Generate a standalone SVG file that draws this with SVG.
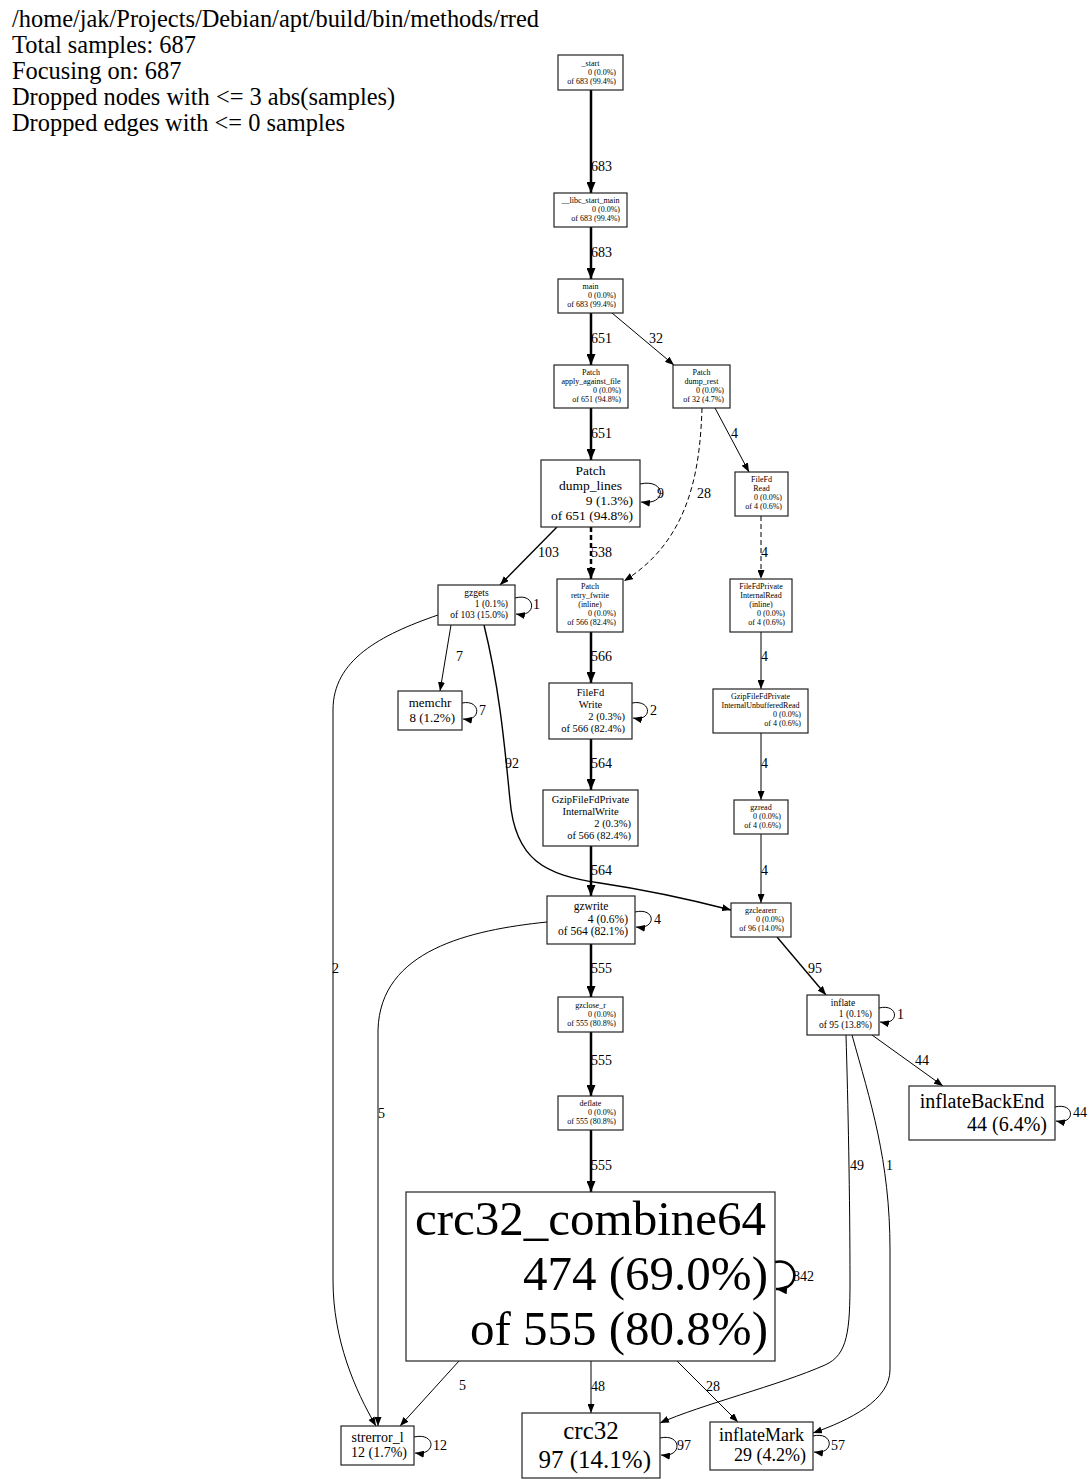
<svg xmlns="http://www.w3.org/2000/svg" width="1091" height="1483" viewBox="0 0 1091 1483">
<defs>
<marker id="a" markerWidth="9" markerHeight="7" refX="9" refY="3.5" orient="auto" markerUnits="userSpaceOnUse"><path d="M0,0 L9,3.5 L0,7 z" fill="#000"/></marker>
<marker id="ab" markerWidth="11" markerHeight="9" refX="11" refY="4.5" orient="auto" markerUnits="userSpaceOnUse"><path d="M0,0 L11,4.5 L0,9 z" fill="#000"/></marker>
<style>
text{font-family:"Liberation Serif","Times New Roman",serif;fill:#000}
.n rect{fill:#fff;stroke:#222;stroke-width:1.2}
.c{text-anchor:middle}
.r{text-anchor:end}
.s{font-size:8px}
.e path{fill:none;stroke:#000;stroke-width:1;marker-end:url(#a)}
.e path.t{stroke-width:2.5;marker-end:url(#ab)}
.e path.m{stroke-width:1.4}
.e path.d{stroke-dasharray:5,3}
.e text{font-size:14px}
.h{font-size:24.4px}
</style>
</defs>
<g id="header">
<text class="h" x="12" y="27">/home/jak/Projects/Debian/apt/build/bin/methods/rred</text>
<text class="h" x="12" y="53">Total samples: 687</text>
<text class="h" x="12" y="79">Focusing on: 687</text>
<text class="h" x="12" y="105">Dropped nodes with &lt;= 3 abs(samples)</text>
<text class="h" x="12" y="131">Dropped edges with &lt;= 0 samples</text>
</g>
<g id="edges" class="e">
<path class="t" d="M591,90 L591,193"/><text x="591" y="171">683</text>
<path class="t" d="M591,227 L591,279"/><text x="591" y="257">683</text>
<path class="t" d="M591,313 L591,365"/><text x="591" y="343">651</text>
<path d="M612,313 L674,365"/><text x="649" y="343">32</text>
<path class="t" d="M591,408 L591,460"/><text x="591" y="438">651</text>
<path d="M640,484 C666,478 668,506 641,502"/><text x="657" y="498">9</text>
<path d="M715,408 L749,472"/><text x="731" y="438">4</text>
<path class="d" d="M702,408 C700,470 690,540 624,581"/><text x="697" y="498">28</text>
<path class="t d" d="M591,527 L591,579"/><text x="591" y="557">538</text>
<path class="m" d="M557,527 L500,585"/><text x="538" y="557">103</text>
<path d="M515,598 C536,592 538,618 516,614"/><text x="533" y="609">1</text>
<path class="d" d="M761,516 L761,579"/><text x="761" y="557">4</text>
<path class="t" d="M591,632 L591,683"/><text x="591" y="661">566</text>
<path d="M761,632 L761,689"/><text x="761" y="661">4</text>
<path d="M451,625 L440,691"/><text x="456" y="661">7</text>
<path d="M462,703 C481,699 482,722 463,719"/><text x="479" y="715">7</text>
<path d="M438,615 C380,635 333,660 333,710 L333,1280 C333,1340 355,1390 376,1426"/><text x="332" y="973">2</text>
<path class="m" d="M484,625 C500,690 505,750 510,800 C515,860 545,875 600,883 C660,892 700,902 731,910"/><text x="505" y="768">92</text>
<path d="M632,703 C652,699 653,722 633,718"/><text x="650" y="715">2</text>
<path class="t" d="M591,739 L591,790"/><text x="591" y="768">564</text>
<path d="M761,733 L761,800"/><text x="761" y="768">4</text>
<path class="t" d="M591,846 L591,896"/><text x="591" y="875">564</text>
<path d="M761,834 L761,903"/><text x="761" y="875">4</text>
<path d="M635,912 C656,907 657,930 636,927"/><text x="654" y="924">4</text>
<path class="t" d="M591,944 L591,997"/><text x="591" y="973">555</text>
<path d="M547,922 C470,930 380,950 378,1030 L378,1426"/><text x="378" y="1118">5</text>
<path class="m" d="M777,937 L826,995"/><text x="808" y="973">95</text>
<path d="M879,1008 C899,1003 900,1026 880,1022"/><text x="897" y="1019">1</text>
<path d="M872,1035 L943,1086"/><text x="915" y="1065">44</text>
<path d="M1055,1107 C1075,1102 1076,1125 1056,1121"/><text x="1073" y="1117">44</text>
<path d="M846,1035 C848,1100 850,1200 850,1280 C850,1330 848,1355 825,1365 C780,1385 700,1405 660,1423"/><text x="850" y="1170">49</text>
<path d="M852,1035 C870,1100 890,1160 890,1250 L890,1370 C890,1400 850,1420 813,1433"/><text x="886" y="1170">1</text>
<path class="t" d="M591,1032 L591,1096"/><text x="591" y="1065">555</text>
<path class="t" d="M591,1130 L591,1192"/><text x="591" y="1170">555</text>
<path class="t" d="M775,1262 C799,1257 802,1291 776,1289"/><text x="793" y="1281">842</text>
<path d="M459,1361 L400,1426"/><text x="459" y="1390">5</text>
<path d="M591,1361 L591,1413"/><text x="591" y="1391">48</text>
<path d="M677,1361 L738,1422"/><text x="706" y="1391">28</text>
<path d="M660,1438 C682,1433 683,1458 661,1455"/><text x="677" y="1450">97</text>
<path d="M813,1436 C834,1431 835,1455 814,1452"/><text x="831" y="1450">57</text>
<path d="M414,1437 C436,1432 437,1456 415,1453"/><text x="433" y="1450">12</text>
</g>
<g id="n_start" class="n"><rect x="558" y="55" width="65" height="35"/>
<text class="s c" x="590.5" y="66">_start</text><text class="s r" x="616" y="75">0 (0.0%)</text><text class="s r" x="616" y="84">of 683 (99.4%)</text></g>
<g id="n_libc" class="n"><rect x="554" y="193" width="73" height="34"/>
<text class="s c" x="590.5" y="203">__libc_start_main</text><text class="s r" x="620" y="212">0 (0.0%)</text><text class="s r" x="620" y="221">of 683 (99.4%)</text></g>
<g id="n_main" class="n"><rect x="558" y="279" width="65" height="34"/>
<text class="s c" x="590.5" y="289">main</text><text class="s r" x="616" y="298">0 (0.0%)</text><text class="s r" x="616" y="307">of 683 (99.4%)</text></g>
<g id="n_apply" class="n"><rect x="554" y="365" width="74" height="43"/>
<text class="s c" x="591" y="375">Patch</text><text class="s c" x="591" y="384">apply_against_file</text><text class="s r" x="621" y="393">0 (0.0%)</text><text class="s r" x="621" y="402">of 651 (94.8%)</text></g>
<g id="n_dumprest" class="n"><rect x="673" y="365" width="57" height="43"/>
<text class="s c" x="701.5" y="375">Patch</text><text class="s c" x="701.5" y="384">dump_rest</text><text class="s r" x="724" y="393">0 (0.0%)</text><text class="s r" x="724" y="402">of 32 (4.7%)</text></g>
<g id="n_dumplines" class="n"><rect x="541" y="460" width="99" height="67"/>
<g style="font-size:13.5px"><text class="c" x="590.5" y="475">Patch</text><text class="c" x="590.5" y="490">dump_lines</text><text class="r" x="633" y="505">9 (1.3%)</text><text class="r" x="633" y="520">of 651 (94.8%)</text></g></g>
<g id="n_fileread" class="n"><rect x="735" y="472" width="53" height="44"/>
<text class="s c" x="761.5" y="482">FileFd</text><text class="s c" x="761.5" y="491">Read</text><text class="s r" x="782" y="500">0 (0.0%)</text><text class="s r" x="782" y="509">of 4 (0.6%)</text></g>
<g id="n_gzgets" class="n"><rect x="438" y="585" width="77" height="40"/>
<g style="font-size:9.5px"><text class="c" x="476.5" y="596">gzgets</text><text class="r" x="508" y="607">1 (0.1%)</text><text class="r" x="508" y="618">of 103 (15.0%)</text></g></g>
<g id="n_retry" class="n"><rect x="557" y="579" width="66" height="53"/>
<text class="s c" x="590" y="589">Patch</text><text class="s c" x="590" y="598">retry_fwrite</text><text class="s c" x="590" y="607">(inline)</text><text class="s r" x="616" y="616">0 (0.0%)</text><text class="s r" x="616" y="625">of 566 (82.4%)</text></g>
<g id="n_internalread" class="n"><rect x="730" y="579" width="62" height="53"/>
<text class="s c" x="761" y="589">FileFdPrivate</text><text class="s c" x="761" y="598">InternalRead</text><text class="s c" x="761" y="607">(inline)</text><text class="s r" x="785" y="616">0 (0.0%)</text><text class="s r" x="785" y="625">of 4 (0.6%)</text></g>
<g id="n_memchr" class="n"><rect x="398" y="691" width="64" height="39"/>
<g style="font-size:13px"><text class="c" x="430" y="706.5">memchr</text><text class="r" x="455" y="721.5">8 (1.2%)</text></g></g>
<g id="n_write" class="n"><rect x="549" y="683" width="83" height="56"/>
<g style="font-size:10.5px"><text class="c" x="590.5" y="696">FileFd</text><text class="c" x="590.5" y="708">Write</text><text class="r" x="625" y="720">2 (0.3%)</text><text class="r" x="625" y="732">of 566 (82.4%)</text></g></g>
<g id="n_unbuffered" class="n"><rect x="713" y="689" width="95" height="44"/>
<text class="s c" x="760.5" y="699">GzipFileFdPrivate</text><text class="s c" x="760.5" y="708">InternalUnbufferedRead</text><text class="s r" x="801" y="717">0 (0.0%)</text><text class="s r" x="801" y="726">of 4 (0.6%)</text></g>
<g id="n_internalwrite" class="n"><rect x="543" y="790" width="95" height="56"/>
<g style="font-size:10.5px"><text class="c" x="590.5" y="803">GzipFileFdPrivate</text><text class="c" x="590.5" y="815">InternalWrite</text><text class="r" x="631" y="827">2 (0.3%)</text><text class="r" x="631" y="839">of 566 (82.4%)</text></g></g>
<g id="n_gzread" class="n"><rect x="734" y="800" width="54" height="34"/>
<text class="s c" x="761" y="810">gzread</text><text class="s r" x="781" y="819">0 (0.0%)</text><text class="s r" x="781" y="828">of 4 (0.6%)</text></g>
<g id="n_gzwrite" class="n"><rect x="547" y="896" width="88" height="48"/>
<g style="font-size:11.5px"><text class="c" x="591" y="910">gzwrite</text><text class="r" x="628" y="922.5">4 (0.6%)</text><text class="r" x="628" y="935">of 564 (82.1%)</text></g></g>
<g id="n_gzclearerr" class="n"><rect x="731" y="903" width="60" height="34"/>
<text class="s c" x="761" y="913">gzclearerr</text><text class="s r" x="784" y="922">0 (0.0%)</text><text class="s r" x="784" y="931">of 96 (14.0%)</text></g>
<g id="n_gzclose" class="n"><rect x="558" y="997" width="65" height="35"/>
<text class="s c" x="590.5" y="1007.5">gzclose_r</text><text class="s r" x="616" y="1016.5">0 (0.0%)</text><text class="s r" x="616" y="1025.5">of 555 (80.8%)</text></g>
<g id="n_inflate" class="n"><rect x="807" y="995" width="72" height="40"/>
<g style="font-size:9.5px"><text class="c" x="843" y="1006">inflate</text><text class="r" x="872" y="1017">1 (0.1%)</text><text class="r" x="872" y="1028">of 95 (13.8%)</text></g></g>
<g id="n_inflatebackend" class="n"><rect x="909" y="1086" width="146" height="54"/>
<g style="font-size:20px"><text class="c" x="982" y="1107.5">inflateBackEnd</text><text class="r" x="1047" y="1130.5">44 (6.4%)</text></g></g>
<g id="n_deflate" class="n"><rect x="558" y="1096" width="65" height="34"/>
<text class="s c" x="590.5" y="1106">deflate</text><text class="s r" x="616" y="1115">0 (0.0%)</text><text class="s r" x="616" y="1124">of 555 (80.8%)</text></g>
<g id="n_combine" class="n"><rect x="406" y="1192" width="369" height="169"/>
<g style="font-size:49px"><text class="c" x="590.5" y="1235">crc32_combine64</text><text class="r" x="768" y="1290">474 (69.0%)</text><text class="r" x="768" y="1345">of 555 (80.8%)</text></g></g>
<g id="n_strerror" class="n"><rect x="341" y="1426" width="73" height="39"/>
<g style="font-size:14px"><text class="c" x="377.5" y="1442">strerror_l</text><text class="r" x="407" y="1457">12 (1.7%)</text></g></g>
<g id="n_crc32" class="n"><rect x="522" y="1413" width="138" height="65"/>
<g style="font-size:25px"><text class="c" x="591" y="1439">crc32</text><text class="r" x="651" y="1468">97 (14.1%)</text></g></g>
<g id="n_inflatemark" class="n"><rect x="710" y="1422" width="103" height="48"/>
<g style="font-size:18px"><text class="c" x="761.5" y="1441">inflateMark</text><text class="r" x="806" y="1461">29 (4.2%)</text></g></g>
</svg>
